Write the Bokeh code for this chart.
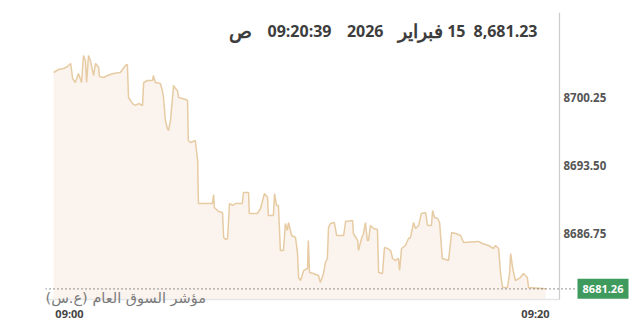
from bokeh.plotting import figure
from bokeh.models import Range1d, FixedTicker
from bokeh.core.properties import value
from bokeh.embed import file_html
from bokeh.resources import INLINE

# seconds after 09:00:00
times = [-41, -28, -15, -5, 3, 8, 15, 23, 31, 36, 41, 44, 49, 54, 62, 67, 75, 77, 88, 98,
         113, 131, 144, 149, 152, 157, 162, 170, 178, 188, 191, 201, 214, 216, 221, 234, 239, 242, 247, 252,
         255, 260, 268, 273, 278, 281, 299, 304, 306, 312, 324, 330, 332, 368, 371, 373, 384, 394, 397, 402,
         407, 412, 420, 427, 445, 448, 461, 463, 484, 492, 502, 510, 512, 525, 528, 533, 538, 543, 551, 556,
         561, 564, 572, 582, 587, 590, 595, 603, 613, 615, 618, 628, 641, 646, 654, 659, 664, 667, 672, 682,
         688, 706, 711, 729, 731, 742, 744, 752, 757, 762, 767, 770, 775, 783, 793, 796, 806, 811, 819, 827,
         832, 839, 847, 850, 855, 865, 873, 878, 886, 891, 899, 906, 917, 922, 932, 935, 940, 948, 953, 960,
         976, 984, 994, 1007, 1015, 1053, 1063, 1079, 1092, 1097, 1105, 1110, 1115, 1128, 1133, 1136, 1141, 1148, 1161, 1169,
         1179, 1182, 1226]
values = [8702.73, 8703.03, 8703.13, 8703.33, 8703.63, 8702.14, 8701.74, 8702.63, 8701.74, 8704.42,
          8703.92, 8701.74, 8704.42, 8703.92, 8702.43, 8703.63, 8703.23, 8702.33, 8702.24, 8702.43,
          8702.63, 8702.73, 8703.43, 8703.53, 8700.25, 8699.95, 8699.65, 8699.46, 8699.65, 8699.46,
          8701.74, 8701.94, 8701.94, 8702.43, 8701.74, 8701.64, 8700.94, 8700.25, 8697.97, 8697.17,
          8696.97, 8697.97, 8701.44, 8701.14, 8700.94, 8700.25, 8700.05, 8699.95, 8695.98, 8695.78,
          8695.98, 8694.00, 8689.73, 8689.73, 8690.62, 8689.33, 8688.93, 8688.83, 8686.35, 8686.15,
          8686.25, 8689.73, 8689.53, 8689.73, 8689.73, 8690.82, 8690.82, 8688.74, 8688.74, 8689.23,
          8690.72, 8690.32, 8688.54, 8688.54, 8690.72, 8689.53, 8689.53, 8685.06, 8685.06, 8687.74,
          8687.05, 8687.84, 8686.55, 8686.35, 8684.86, 8682.38, 8682.08, 8683.08, 8683.28, 8686.05,
          8682.88, 8682.78, 8682.58, 8681.89, 8682.78, 8683.87, 8684.27, 8687.35, 8687.74, 8687.84,
          8686.55, 8686.55, 8687.94, 8688.04, 8686.75, 8686.05, 8685.06, 8686.25, 8686.75, 8687.84,
          8686.05, 8686.05, 8687.54, 8687.25, 8687.15, 8682.88, 8682.78, 8685.36, 8685.26, 8685.06,
          8684.27, 8684.07, 8684.27, 8683.08, 8685.26, 8685.56, 8686.25, 8686.35, 8687.84, 8687.25,
          8687.54, 8688.74, 8688.83, 8687.54, 8687.54, 8689.03, 8688.34, 8688.24, 8687.84, 8684.27,
          8684.07, 8686.85, 8686.75, 8686.55, 8685.86, 8685.96, 8685.76, 8685.56, 8685.26, 8685.56,
          8685.26, 8682.78, 8681.39, 8681.39, 8682.78, 8684.76, 8683.37, 8682.08, 8682.38, 8682.78,
          8682.38, 8681.39, 8681.26]

y_ticks = [8686.75, 8693.50, 8700.25]
x_ticks = [0, 1200]
x_tick_labels = ["09:00", "09:20"]
last_value = 8681.26
header_tokens = ["ص", "09:20:39", "2026", "فبراير", "15", "8,681.23"]
index_name = "مؤشر السوق العام (ع.س)"

# layout helpers (seconds per pixel along x, values per pixel along y)
SPX = 2.575
X0 = 69  # pixel of 09:00
VPY = 1 / 10.074


def px(xpix):
    return (xpix - X0) * SPX


def py(ypix):
    return 8700.25 - (ypix - 97) * VPY


Y_TOP, Y_BOT = py(12), py(306)
AREA_BOT = py(299)

p = figure(width=640, height=332, output_backend="svg", toolbar_location=None,
           x_range=Range1d(px(45), px(640)), y_range=Range1d(Y_BOT, Y_TOP),
           y_axis_location=None, min_border_left=45, min_border_right=0,
           min_border_top=12, min_border_bottom=26)
p.outline_line_color = None
p.xgrid.visible = False
p.ygrid.visible = False
p.background_fill_color = "white"
p.border_fill_color = "white"

p.varea(x=times, y1=[AREA_BOT] * len(times), y2=values, fill_color="#fbf4ee")
p.line(times, values, line_color="#e6cba3", line_width=1.5)

# faint border under the area
p.segment(x0=[px(45)], y0=[AREA_BOT], x1=[px(559)], y1=[AREA_BOT],
          line_color="#e6e6e6", line_width=1.5)

# right axis line
p.segment(x0=[px(559)], y0=[AREA_BOT], x1=[px(559)], y1=[Y_TOP],
          line_color="#cccccc", line_width=1.2)

# dotted last-value line
p.segment(x0=[px(45)], y0=[last_value], x1=[px(576)], y1=[last_value],
          line_color="#555555", line_dash="1 3", line_width=1.2)

# y tick labels
p.text(x=[px(563)] * len(y_ticks), y=y_ticks, text=[f"{t:.2f}" for t in y_ticks],
       text_align="left", text_baseline="middle", text_color="#555555",
       text_font=value("Open Sans"), text_font_style="bold", text_font_size="11.5px")

# last value badge
p.rect(x=[px(602.5)], y=[last_value], width=51, height=20, width_units="screen",
       height_units="screen", fill_color="#3f9a5e", line_color=None)
p.text(x=[px(602.5)], y=[last_value], text=[f"{last_value:.2f}"], text_align="center",
       text_baseline="middle", text_color="white", text_font=value("Open Sans"),
       text_font_style="bold", text_font_size="11px")

# header tokens, right edges
header_right = [251, 331, 383, 442, 465, 537]
header_sizes = ["19px", "16px", "16px", "19px", "16px", "16px"]
for tok, r, s in zip(header_tokens, header_right, header_sizes):
    p.text(x=[px(r)], y=[py(30)], text=[tok],
           text_align="right", text_baseline="middle", text_color="#3d3d3d",
           text_font=value("Open Sans"), text_font_style="bold", text_font_size=s)

p.text(x=[px(45)], y=[py(297)], text=[index_name], text_align="left", text_baseline="middle",
       text_color="#7a7a7a", text_font=value("DejaVu Sans"), text_font_size="14.5px")

xa = p.xaxis[0]
xa.ticker = FixedTicker(ticks=x_ticks)
xa.major_label_overrides = {t: l for t, l in zip(x_ticks, x_tick_labels)}
xa.major_tick_line_color = None
xa.minor_tick_line_color = None
xa.axis_line_color = None
xa.major_label_text_font = "Open Sans"
xa.major_label_text_font_style = "bold"
xa.major_label_text_font_size = "11px"
xa.major_label_text_color = "#444444"
xa.major_label_standoff = -7

open("out.html", "w").write(file_html(p, INLINE))
